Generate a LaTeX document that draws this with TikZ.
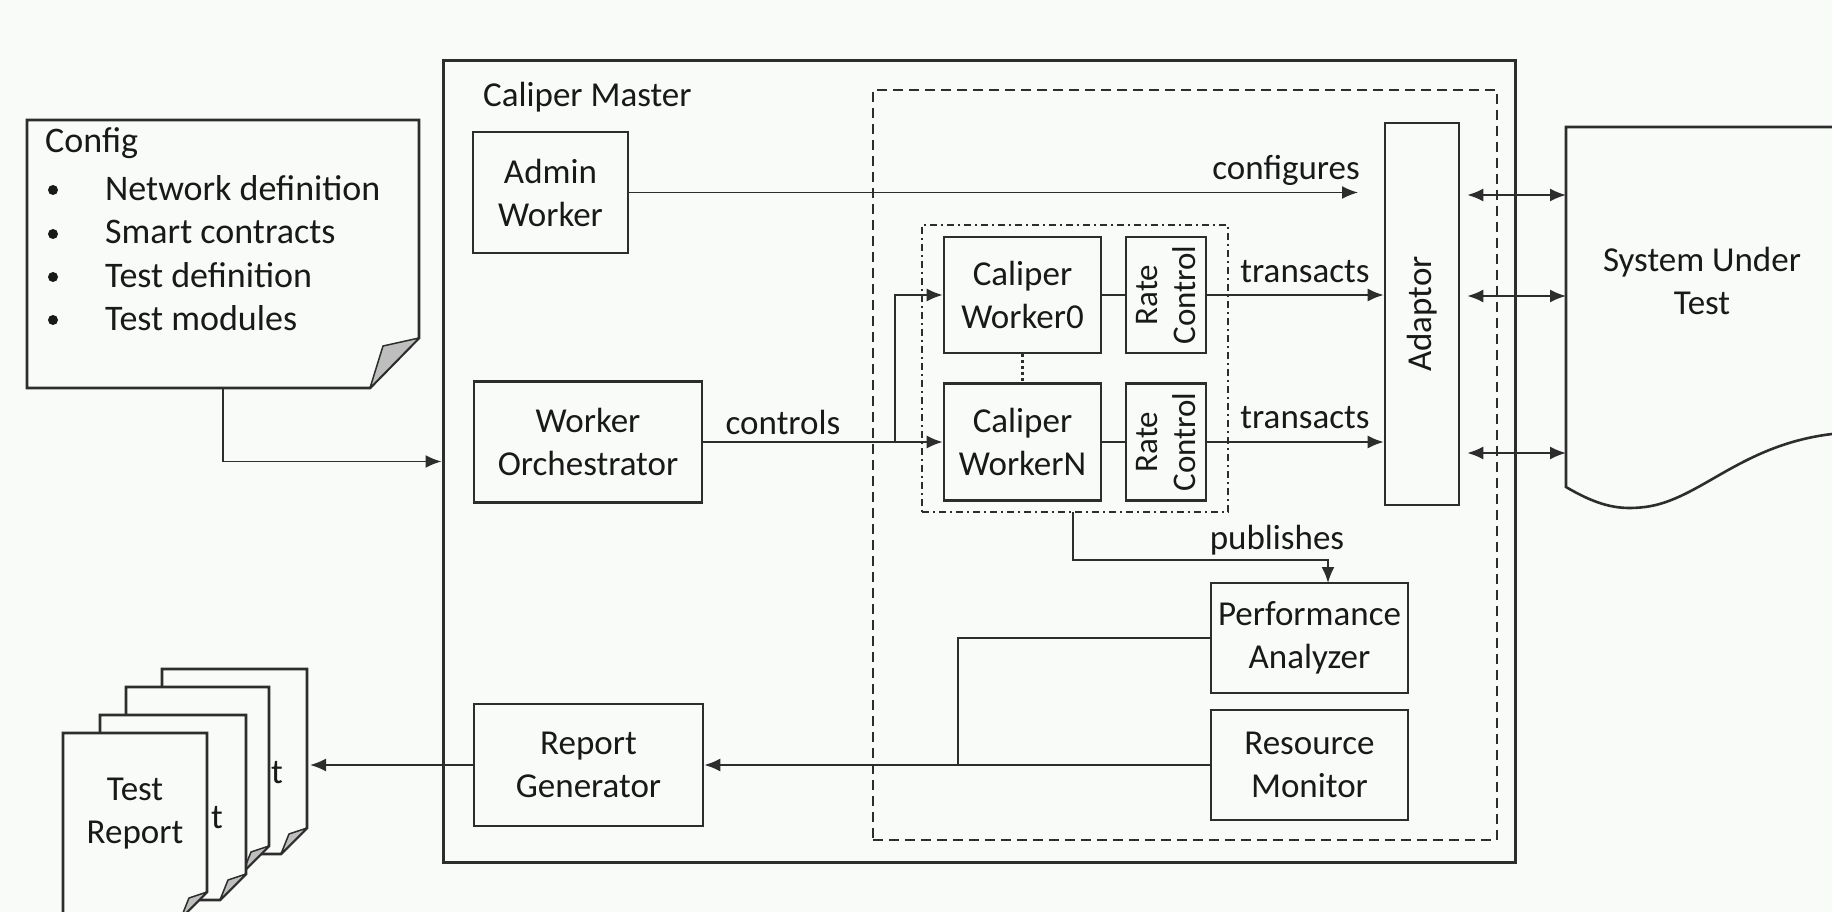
\documentclass[tikz,border=0pt]{standalone}
\usepackage{fontspec}
\setmainfont{Carlito}
\usetikzlibrary{arrows.meta}
\definecolor{bg}{RGB}{248,251,248}
\definecolor{lc}{RGB}{45,45,45}
\definecolor{tc}{RGB}{25,25,25}
\definecolor{foldc}{RGB}{190,190,190}
\newcommand{\lbl}{\fontsize{35}{43}\selectfont}
\newcommand{\cfglbl}{\fontsize{36}{43}\selectfont}
\newcommand{\rclbl}{\fontsize{33}{38}\selectfont}
\begin{document}
\begin{tikzpicture}[x=1pt,y=-1pt,
  box/.style={draw=lc, line width=2.6pt, fill=bg, align=center, inner sep=0pt, font=\lbl, text=tc},
  txt/.style={font=\lbl, text=tc, inner sep=0pt, align=center},
  arr/.style={draw=lc, line width=1.8pt, -{Latex[length=16pt,width=13pt]}},
  conn/.style={draw=lc, line width=1.8pt},
  dbl/.style={draw=lc, line width=1.8pt, {Latex[length=16pt,width=13pt]}-{Latex[length=16pt,width=13pt]}},
  page/.style={draw=lc, line width=2.6pt, fill=bg, line join=miter},
  fold/.style={draw=lc, line width=1.5pt, fill=foldc, line join=round},
  bul/.style={fill=tc, circle, inner sep=0pt, minimum size=10pt}
]
\clip (0,0) rectangle (1832,912);
\fill[bg] (0,0) rectangle (1832,912);

% Caliper Master frame
\node[box, line width=3pt, minimum width=1072pt, minimum height=801pt] (master) at (979,461.5) {};
\node[txt, anchor=west] (cm) at (483,97) {Caliper Master};
\node[draw=lc, line width=2.5pt, dash pattern=on 10pt off 6pt, minimum width=624pt, minimum height=750pt, inner sep=0pt] (dbox) at (1185,465) {};
\node[draw=lc, line width=2.5pt, dash pattern=on 7pt off 4pt on 2pt off 4pt, minimum width=306pt, minimum height=287pt, inner sep=0pt] (grp) at (1075,368.5) {};

% boxes
\node[box, minimum width=155pt, minimum height=121pt] (admin) at (550.5,192.5) {Admin\\Worker};
\node[box, minimum width=228pt, minimum height=121pt] (orch) at (588,442) {Worker\\Orchestrator};
\node[box, minimum width=229pt, minimum height=122pt] (rg) at (588.5,765) {Report\\Generator};
\node[box, minimum width=157pt, minimum height=116pt] (w0) at (1022.5,295) {Caliper\\Worker0};
\node[box, minimum width=157pt, minimum height=117pt] (wN) at (1022.5,442) {Caliper\\WorkerN};
\node[box, minimum width=80pt, minimum height=116pt] (rc0) at (1166,295) {};
\node[box, minimum width=80pt, minimum height=117pt] (rcN) at (1166,442) {};
\node[txt, rotate=90, font=\rclbl] (rc0t) at (rc0) {Rate\\Control};
\node[txt, rotate=90, font=\rclbl] (rcNt) at (rcN) {Rate\\Control};
\node[box, minimum width=74pt, minimum height=382pt] (ad) at (1422,314) {};
\node[txt, rotate=90] (adt) at (ad) {Adaptor};
\node[box, minimum width=197pt, minimum height=110pt] (pa) at (1309.5,638) {Performance\\Analyzer};
\node[box, minimum width=197pt, minimum height=110pt] (rm) at (1309.5,765) {Resource\\Monitor};

% dotted link between workers
\draw[draw=lc, line width=2.5pt, dash pattern=on 3pt off 3pt] (w0.south) -- (wN.north);

% configures
\coordinate (cfgend) at (1358,192.5);
\draw[arr] (admin.east) -- (cfgend);
\node[txt, anchor=east] (lcfg) at (1360,170) {configures};

% controls
\coordinate (br) at (895,442);
\draw[arr] (orch.east) -- (wN.west);
\draw[arr] (br) |- (w0.west);
\node[txt] (lctl) at (783,422) {controls};

% workers -> rate control -> adaptor
\draw[conn] (w0.east) -- (rc0.west);
\draw[conn] (wN.east) -- (rcN.west);
\draw[arr] (rc0.east) -- (rc0.east -| ad.west);
\draw[arr] (rcN.east) -- (rcN.east -| ad.west);
\node[txt] (ltr0) at (1305,272) {transacts};
\node[txt] (ltrN) at (1305,418) {transacts};

% System Under Test
\draw[page] (1566,127) -- (1845,127) -- (1845,434) -- (1832,434)
  .. controls (1740,445) and (1700,500) .. (1645,507)
  .. controls (1620,510) and (1600,507) .. (1566,487) -- cycle;
\node[txt] (sut) at (1702,281) {System Under\\Test};
\coordinate (s1) at (1566,195);
\coordinate (s2) at (1566,296);
\coordinate (s3) at (1566,453);
\draw[dbl, shorten <=7pt] (ad.east |- s1) -- (s1);
\draw[dbl, shorten <=7pt] (ad.east |- s2) -- (s2);
\draw[dbl, shorten <=7pt] (ad.east |- s3) -- (s3);

% publishes
\coordinate (pubs) at (1073,512);
\coordinate (pubt) at (1328,583);
\draw[arr] (pubs) |- (1328,560) -- (pubt);
\node[txt] (lpub) at (1277,540) {publishes};

% analyzer / monitor -> report generator
\coordinate (jn) at (958,765);
\draw[conn] (pa.west) -| (jn);
\draw[arr] (rm.west) -- (rg.east);

% report generator -> reports
\coordinate (rep) at (310,765);
\draw[arr] (rg.west) -- (rep);

% Config document
\draw[page] (27,120) -- (419,120) -- (419,338) -- (370,388) -- (27,388) -- cycle;
\draw[fold] (419,338) -- (383,346) -- (370,388) -- cycle;
\node[txt, font=\cfglbl, anchor=west] (cfgt) at (45,143) {Config};
\node[bul] (b1) at (53,190) {};
\node[bul] (b2) at (53,234) {};
\node[bul] (b3) at (53,277) {};
\node[bul] (b4) at (53,320) {};
\node[txt, font=\cfglbl, anchor=west] (c1) at (105,188) {Network definition};
\node[txt, font=\cfglbl, anchor=west] (c2) at (105,232) {Smart contracts};
\node[txt, font=\cfglbl, anchor=west] (c3) at (105,275) {Test definition};
\node[txt, font=\cfglbl, anchor=west] (c4) at (105,318) {Test modules};
\coordinate (cfgb) at (223,388);
\draw[arr] (cfgb) |- (master.west);

% Test report stack (only the visible ends of the back pages' text show)
\draw[page] (162,669) -- (307,669) -- (307,828) -- (281,854) -- (162,854) -- cycle;
\draw[fold] (307,828) -- (289,834) -- (281,854) -- cycle;
\node[txt] (p4t) at (277,773) {t};
\draw[page] (126,687) -- (269,687) -- (269,846) -- (243,872) -- (126,872) -- cycle;
\draw[fold] (269,846) -- (251,852) -- (243,872) -- cycle;
\draw[page] (100,715) -- (246,715) -- (246,874) -- (220,900) -- (100,900) -- cycle;
\draw[fold] (246,874) -- (228,880) -- (220,900) -- cycle;
\node[txt] (p2t) at (217,818) {t};
\draw[page] (63,733) -- (207,733) -- (207,892) -- (181,918) -- (63,918) -- cycle;
\draw[fold] (207,892) -- (189,898) -- (181,918) -- cycle;
\node[txt] (p1t) at (135,813.5) {Test\\Report};
\end{tikzpicture}
\end{document}
